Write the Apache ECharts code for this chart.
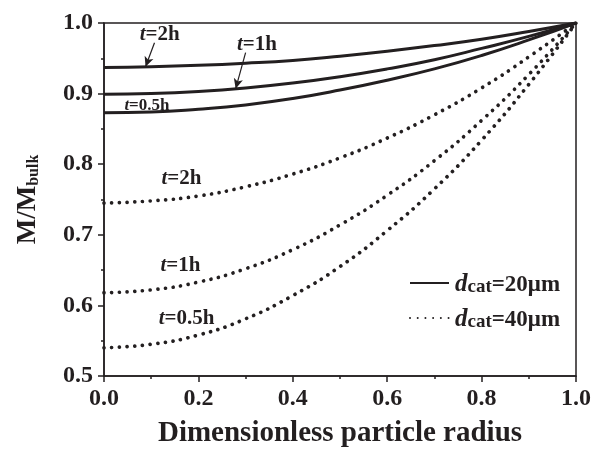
<!DOCTYPE html>
<html><head><meta charset="utf-8">
<script src="https://cdn.jsdelivr.net/npm/echarts@6/dist/echarts.min.js"></script>
<style>html,body{margin:0;padding:0;background:#fff}#c{width:594px;height:453px}</style>
</head><body><div id="c"></div>
<script>
// ---- data ----
var radius = [0, 0.1, 0.2, 0.3, 0.4, 0.5, 0.6, 0.7, 0.8, 0.9, 1.0];
var solid2h  = [0.937, 0.938, 0.940, 0.943, 0.947, 0.953, 0.960, 0.968, 0.977, 0.988, 1.0];
var solid1h  = [0.899, 0.900, 0.903, 0.908, 0.915, 0.924, 0.935, 0.948, 0.964, 0.981, 1.0];
var solid05h = [0.873, 0.874, 0.878, 0.884, 0.893, 0.905, 0.919, 0.935, 0.954, 0.976, 1.0];
var dot2h    = [0.745, 0.748, 0.755, 0.768, 0.786, 0.809, 0.837, 0.870, 0.908, 0.952, 1.0];
var dot1h    = [0.618, 0.622, 0.633, 0.652, 0.679, 0.714, 0.756, 0.805, 0.862, 0.927, 1.0];
var dot05h   = [0.540, 0.545, 0.558, 0.581, 0.614, 0.655, 0.706, 0.765, 0.834, 0.913, 1.0];
var legendNames = ['d20', 'd40'];
var legendTexts = {d20: '=20\u03bcm', d40: '=40\u03bcm'};
var xTicks = {min: 0, max: 1, interval: 0.2};
var yTicks = {min: 0.5, max: 1, interval: 0.1};
// annotation labels: [time text, r, value]
var labelNames = ['2h', '1h', '0.5h', '2h', '1h', '0.5h'];
var labelR = [0.118, 0.324, 0.091, 0.164, 0.162, 0.175];
var labelV = [0.983, 0.969, 0.883, 0.780, 0.656, 0.582];
var labelSmall = [false, false, true, false, false, false];
// arrows: from (r,v) to (r,v)
var arrows = [[[0.107, 0.972], [0.088, 0.938]], [[0.300, 0.958], [0.279, 0.907]]];

var C = '#231f20';
var FONT = 'Liberation Serif';
function pair(ys) { return radius.map(function (r, i) { return [r, ys[i]]; }); }

function solidSeries(ys, extra) {
  var s = {name: 'd20', type: 'line', data: pair(ys), smooth: true, symbol: 'none',
    lineStyle: {color: C, width: 3}, itemStyle: {color: C}, silent: true, z: 3};
  return Object.assign(s, extra || {});
}
function dotSeries(ys) {
  return {name: 'd40', type: 'line', data: pair(ys), smooth: true, symbol: 'none',
    lineStyle: {color: C, width: 3.7, type: [0.01, 7.7], cap: 'round'}, itemStyle: {color: C}, silent: true, z: 3};
}

var chart = echarts.init(document.getElementById('c'), null, {renderer: 'canvas'});
var axisLabel = {color: C, fontFamily: FONT, fontWeight: 'bold', fontSize: 24};
var option = {
  animation: false,
  backgroundColor: '#fff',
  grid: {left: 104, right: 15, top: 23, bottom: 75, show: true, borderColor: C, borderWidth: 1.5},
  xAxis: {type: 'value', min: xTicks.min, max: xTicks.max, interval: xTicks.interval,
    axisLine: {show: true, lineStyle: {color: C, width: 1.5}},
    axisTick: {show: true, inside: false, length: 6, lineStyle: {color: C, width: 1.5}},
    minorTick: {show: true, splitNumber: 2, length: 3, lineStyle: {color: C, width: 1.5}},
    splitLine: {show: false},
    axisLabel: Object.assign({margin: 11, formatter: function (v) { return v.toFixed(1); }}, axisLabel),
    name: 'Dimensionless particle radius', nameLocation: 'middle', nameGap: 43,
    nameTextStyle: {color: C, fontFamily: FONT, fontWeight: 'bold', fontSize: 29}
  },
  yAxis: {type: 'value', min: yTicks.min, max: yTicks.max, interval: yTicks.interval,
    axisLine: {show: true, lineStyle: {color: C, width: 1.5}},
    axisTick: {show: true, inside: false, length: 6, lineStyle: {color: C, width: 1.5}},
    minorTick: {show: true, splitNumber: 2, length: 3, lineStyle: {color: C, width: 1.5}},
    splitLine: {show: false},
    axisLabel: Object.assign({margin: 11, formatter: function (v) { return v.toFixed(1); }}, axisLabel),
    name: '{m|M/M}{s|bulk}', nameLocation: 'middle', nameGap: 62, nameRotate: 90,
    nameTextStyle: {color: C, fontFamily: FONT, fontWeight: 'bold',
      rich: {
        m: {fontSize: 27, fontFamily: FONT, fontWeight: 'bold', color: C, lineHeight: 30, verticalAlign: 'bottom'},
        s: {fontSize: 16, fontFamily: FONT, fontWeight: 'bold', color: C, lineHeight: 14, verticalAlign: 'bottom'}
      }}
  },
  legend: {
    data: legendNames, orient: 'vertical', left: 409, top: 272, padding: 0,
    itemWidth: 39, itemHeight: 14, itemGap: 10, selectedMode: false,
    itemStyle: {opacity: 0},
    formatter: function (n) { return '{d|d}{s|cat}{n|' + legendTexts[n] + '}'; },
    textStyle: {color: C, fontFamily: FONT, fontWeight: 'bold', fontSize: 23, padding: [0, 0, 0, 1],
      rich: {
        d: {fontSize: 25, fontStyle: 'italic', fontWeight: 'bold', fontFamily: FONT, color: C, lineHeight: 28, verticalAlign: 'bottom'},
        s: {fontSize: 19, fontWeight: 'bold', fontFamily: FONT, color: C, lineHeight: 14, verticalAlign: 'bottom'},
        n: {fontSize: 23, fontWeight: 'bold', fontFamily: FONT, color: C, lineHeight: 28, verticalAlign: 'bottom'}
      }}
  },
  series: [
    solidSeries(solid2h, {
      markLine: {silent: true, symbol: ['none', 'arrow'], symbolSize: [7, 10], label: {show: false},
        lineStyle: {color: C, width: 1.2, type: 'solid'}, animation: false,
        data: arrows.map(function (a) { return [{coord: a[0]}, {coord: a[1]}]; })}
    }),
    solidSeries(solid1h),
    solidSeries(solid05h),
    dotSeries(dot2h),
    dotSeries(dot1h),
    dotSeries(dot05h)
  ]
};
chart.setOption(option);

var graphics = labelNames.map(function (n, i) {
  var p = chart.convertToPixel({gridIndex: 0}, [labelR[i], labelV[i]]);
  var fs = labelSmall[i] ? 17 : 21;
  return {type: 'text', x: p[0], y: p[1], z: 10, silent: true,
    style: {text: '{t|t}{n|=' + n + '}', align: 'center', verticalAlign: 'middle',
      rich: {
        t: {fontSize: fs, fontStyle: 'italic', fontWeight: 'bold', fontFamily: FONT, fill: C, color: C},
        n: {fontSize: fs, fontWeight: 'bold', fontFamily: FONT, fill: C, color: C}
      }}};
});
chart.setOption({graphic: graphics});
</script></body></html>
